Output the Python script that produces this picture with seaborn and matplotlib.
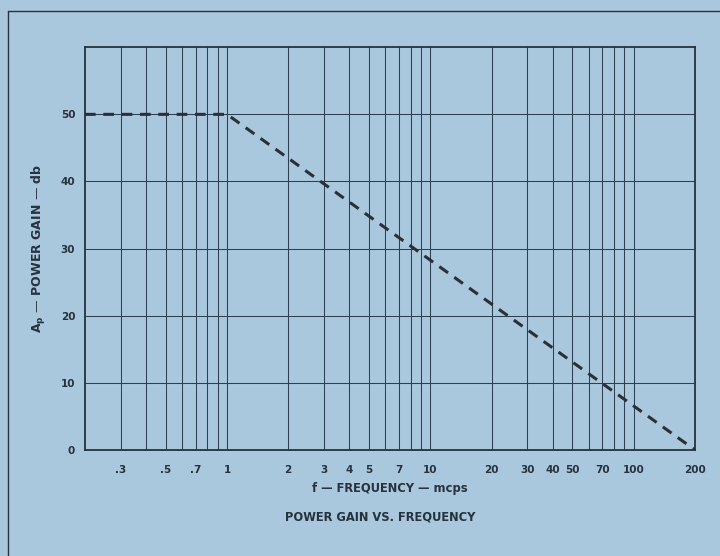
import matplotlib
matplotlib.use("Agg")
import matplotlib.pyplot as plt
from matplotlib.lines import Line2D
import pandas as pd
import seaborn as sns

# break points of the gain curve
freq = [0.2, 1, 200]
gain = [50, 50, 0]

x_ticks = [0.3, 0.5, 0.7, 1, 2, 3, 4, 5, 7, 10, 20, 30, 40, 50, 70, 100, 200]
x_tick_labels = [".3", ".5", ".7", "1", "2", "3", "4", "5", "7", "10",
                 "20", "30", "40", "50", "70", "100", "200"]
x_grid = [0.4, 0.6, 0.8, 0.9, 6, 8, 9, 60, 80, 90]
y_ticks = [0, 10, 20, 30, 40, 50]

bg = "#aac8dd"
ink = "#26323d"
grid_ink = "#2e4050"

sns.set_style("white", {"axes.facecolor": bg, "figure.facecolor": bg})
plt.rcParams["font.family"] = ["DejaVu Sans"]

df = pd.DataFrame({"freq": freq, "gain": gain})

fig = plt.figure(figsize=(7.2, 5.56), dpi=100)
ax = fig.add_axes([0.118, 0.191, 0.847, 0.724])

sns.lineplot(data=df, x="freq", y="gain", ax=ax, color="#2b3036",
             linewidth=2.2, linestyle=(0, (3.5, 2.5)))

ax.set_xscale("log")
ax.set_xlim(0.2, 200)
ax.set_ylim(0, 60)

ax.set_xticks(x_ticks)
ax.set_xticklabels(x_tick_labels)
ax.set_xticks(x_grid, minor=True)
ax.set_yticks(y_ticks)
ax.tick_params(axis="both", which="both", length=0, colors=ink, labelsize=7.5)
ax.tick_params(axis="x", pad=11)
ax.tick_params(axis="y", pad=7)
for t in ax.get_xticklabels() + ax.get_yticklabels():
    t.set_fontweight("bold")

ax.grid(False)
ax.xaxis.grid(True, which="both", color=grid_ink, linewidth=0.75)
ax.yaxis.grid(True, which="major", color=grid_ink, linewidth=0.75)
ax.set_axisbelow(True)

for s in ax.spines.values():
    s.set_visible(True)
    s.set_color(ink)
    s.set_linewidth(1.3)

ax.set_xlabel("f — FREQUENCY — mcps", fontsize=8.3, fontweight="bold",
              color=ink, labelpad=5)
ax.set_ylabel(r"A$_\mathregular{p}$ — POWER GAIN — db", fontsize=9,
              fontweight="bold", color=ink, labelpad=9)
fig.text(0.528, 0.07, "POWER GAIN VS. FREQUENCY", ha="center", va="center",
         fontsize=8.3, fontweight="bold", color=ink)

# outer frame of the printed figure (top and left edges only visible)
fig.add_artist(Line2D([0.011, 1.0], [0.980, 0.980], transform=fig.transFigure,
                      color=ink, linewidth=1.0))
fig.add_artist(Line2D([0.011, 0.011], [0.0, 0.980], transform=fig.transFigure,
                      color=ink, linewidth=1.0))

fig.savefig("out.png", dpi=100, facecolor=bg)
